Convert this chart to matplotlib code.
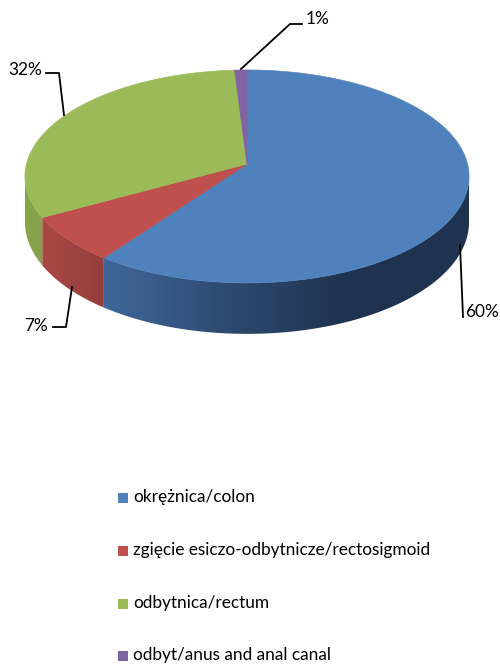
import numpy as np
import matplotlib
matplotlib.use("Agg")
import matplotlib.pyplot as plt
from matplotlib.patches import Polygon, Rectangle
from matplotlib.colors import LinearSegmentedColormap

categories = ["okrężnica/colon",
              "zgięcie esiczo-odbytnicze/rectosigmoid",
              "odbytnica/rectum",
              "odbyt/anus and anal canal"]
values = [60, 7, 32, 1]
pct_labels = ["60%", "7%", "32%", "1%"]

top_colors = ["#4F81BD", "#C0504D", "#9BBB59", "#8064A2"]
side_grad = [["#40679A", "#2E4A71", "#1F3350", "#1F3350"],
             ["#A94845", "#9E4341", "#963E3C"],
             ["#89A64C", "#84A049"],
             ["#6B5488", "#5E4A78"]]

W, H = 500, 664
fig = plt.figure(figsize=(W / 100, H / 100), dpi=100)
ax = fig.add_axes([0, 0, 1, 1])
ax.set_xlim(0, W)
ax.set_ylim(H, 0)
ax.axis("off")

# perspective model of a tilted disc
cx, cy = 247.0, 164.0
R, Ry, k = 220.5, 105.0, 0.117
D = 45.0

def proj(theta_deg, drop=0.0):
    t = np.radians(theta_deg)
    u, v = np.cos(t), -np.sin(t)
    s = 1.0 / (1.0 - k * v)
    return cx + R * u * s, cy + Ry * v * s + D * s * drop

total = float(sum(values))
cum = np.concatenate([[0], np.cumsum(values)]) / total
angles = 90 - 360 * cum  # clockwise from the top

th_all = np.linspace(-360, 0, 7201)
xs_all = np.array([proj(t)[0] for t in th_all])
rng = (th_all > -200) & (th_all < 20)
sub_t = th_all[rng]; sub_x = xs_all[rng]
t_right = sub_t[np.argmax(sub_x)]
t_left = sub_t[np.argmin(sub_x)]

for i in range(len(values)):
    a0, a1 = angles[i], angles[i + 1]
    lo = max(a1, t_left)
    hi = min(a0, t_right)
    if lo >= hi:
        continue
    ts = np.linspace(lo, hi, 300)
    topp = [proj(t) for t in ts]
    botp = [proj(t, 1.0) for t in ts[::-1]]
    poly = Polygon(topp + botp, closed=True, facecolor="none", edgecolor="none")
    ax.add_patch(poly)
    xs = [p[0] for p in topp]
    x0, x1 = min(xs), max(xs)
    ys = [p[1] for p in topp + botp]
    cmap = LinearSegmentedColormap.from_list("g%d" % i, side_grad[i])
    grad = np.linspace(0, 1, 256).reshape(1, -1)
    im = ax.imshow(grad, cmap=cmap, extent=[x0 - 1, x1 + 1, max(ys) + 1, min(ys) - 1],
                   aspect="auto", interpolation="bilinear", zorder=1)
    im.set_clip_path(poly)

for i in range(len(values)):
    a0, a1 = angles[i], angles[i + 1]
    ts = np.linspace(a0, a1, 300)
    pts = [(cx, cy)] + [proj(t) for t in ts]
    ax.add_patch(Polygon(pts, closed=True, facecolor=top_colors[i],
                         edgecolor=top_colors[i], lw=0.5, zorder=2))

fs = 12.4
fam = ["Lato", "DejaVu Sans"]
lk = dict(color="black", lw=1.3, zorder=3)

ax.plot([460, 463], [245, 317], **lk)
ax.text(465, 312, pct_labels[0], fontsize=fs, family=fam, va="center", ha="left")
ax.plot([72, 66, 53], [287, 327, 327], **lk)
ax.text(48, 326, pct_labels[1], fontsize=fs, family=fam, va="center", ha="right")
ax.plot([46, 59, 64], [73, 73, 115], **lk)
ax.text(42, 70, pct_labels[2], fontsize=fs, family=fam, va="center", ha="right")
ax.plot([241, 290, 302], [69, 24, 24], **lk)
ax.text(306, 19, pct_labels[3], fontsize=fs, family=fam, va="center", ha="left")

leg_y = [498, 551, 604, 656]
for i, cat in enumerate(categories):
    ax.add_patch(Rectangle((118, leg_y[i] - 5), 10, 10, facecolor=top_colors[i], edgecolor="none"))
    ax.text(133, leg_y[i] - 1, cat, fontsize=fs, family=fam, va="center", ha="left")

fig.savefig("out.png", dpi=100)
